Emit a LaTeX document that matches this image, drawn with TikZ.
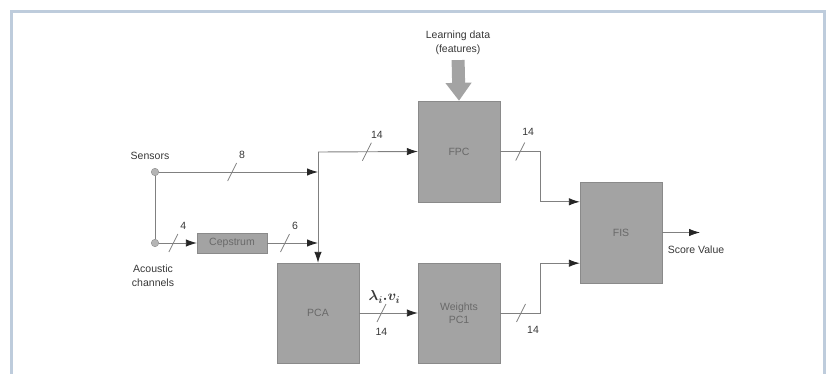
\documentclass[tikz,border=0pt]{standalone}
\usepackage{amsmath}
\usepackage{fontspec}
\setmainfont{Liberation Sans}
\usetikzlibrary{arrows.meta,positioning,calc}

\definecolor{framecol}{RGB}{190,204,220}
\definecolor{boxfill}{RGB}{163,163,163}
\definecolor{boxedge}{RGB}{138,138,138}
\definecolor{wirecol}{RGB}{128,128,128}
\definecolor{txt}{RGB}{55,55,55}

\tikzset{slash/.pic={\draw[-,wirecol,line width=0.8pt] (-4.5,9) -- (4.5,-9);}}

\begin{document}
\begin{tikzpicture}[x=1pt,y=-1pt,
   block/.style={draw=boxedge,fill=boxfill,text=txt!75,align=center,
                 font=\fontsize{10.5}{13}\selectfont,inner sep=0pt,
                 minimum width=82pt,minimum height=101pt},
   lbl/.style={text=txt,align=center,inner sep=1pt,
               font=\fontsize{10.5}{14}\selectfont},
   dot/.style={circle,draw=boxedge,fill=boxfill!80,inner sep=0pt,minimum size=7.5pt},
   wire/.style={draw=wirecol,line width=0.9pt},
   num/.style={lbl,xshift=10pt,yshift=17pt},
   numb/.style={lbl,xshift=12pt,yshift=-17pt},
   >={Latex[length=11pt,width=7.5pt,color=black!85]}]
  \useasboundingbox (0,0) rectangle (826,374);
  \draw[framecol,line width=2.5pt] (11.5,374) -- (11.5,11.5) -- (824.5,11.5) -- (824.5,374);

  % inputs
  \node[dot] (sens) at (155,172) {};
  \node[dot] (acou) at (155,243) {};
  \node[lbl] (senslbl) at (150,156) {Sensors};
  \node[lbl] (acoulbl) at (153,276) {Acoustic\\channels};
  \node[block,minimum width=70pt,minimum height=20pt] (cep) at (232,243) {Cepstrum};
  \coordinate (split) at (318,152);

  % blocks
  \node[lbl] (learn) at (458,43) {Learning data\\(features)};
  \node[block] (fpc) at (459,151.5) {FPC};
  \node[block,minimum height=100pt] (pca) at (318,313) {PCA};
  \node[block,minimum height=100pt] (wts) at (459,313) {Weights\\PC1};
  \node[block] (fis) at (621,232.5) {FIS};
  \coordinate (out) at (700,232.5);
  \node[lbl,anchor=north] (score) at (696,245) {Score Value};

  % connections
  \draw[draw=boxfill,line width=13pt,shorten <=4pt,
        -{Triangle[length=18pt,width=25pt,color=boxfill]}] (learn.south) -- (fpc.north);
  \draw[wire] (sens) -- (acou);
  \draw[wire,->] (sens) -- (sens -| split) pic[pos=.46]{slash} node[pos=.46,num] (n8) {8};
  \draw[wire,->] (acou) -- (cep.west) pic[pos=.38]{slash} node[pos=.38,num] (n4) {4};
  \draw[wire,->] (cep.east) -- (cep.east -| split) pic[pos=.35]{slash} node[pos=.35,num] (n6) {6};
  \draw[wire,->] (split) -- (fpc.west) pic[pos=.49]{slash} node[pos=.49,num] (n14a) {14};
  \draw[wire,->] (split) -- (pca.north);
  \draw[wire,->] (pca) -- (wts) pic[pos=.38]{slash}
     node[pos=.38,lbl,xshift=3pt,yshift=16pt,font=\fontsize{14}{15}\selectfont] (lam) {$\boldsymbol{\lambda_i.v_i}$}
     node[pos=.38,lbl,yshift=-19pt] (n14b) {14};
  \draw[wire,->] (fpc.east) -- ++(40,0) pic[pos=.5]{slash} node[pos=.5,num,xshift=-2pt,yshift=3pt] (n14c) {14}
     |- ([yshift=-20pt]fis.north west);
  \draw[wire,->] (wts.east) -- ++(40,0) pic[pos=.52]{slash} node[pos=.52,numb] (n14d) {14}
     |- ([yshift=20pt]fis.south west);
  \draw[wire,->] (fis.east) -- (out);
\end{tikzpicture}
\end{document}
